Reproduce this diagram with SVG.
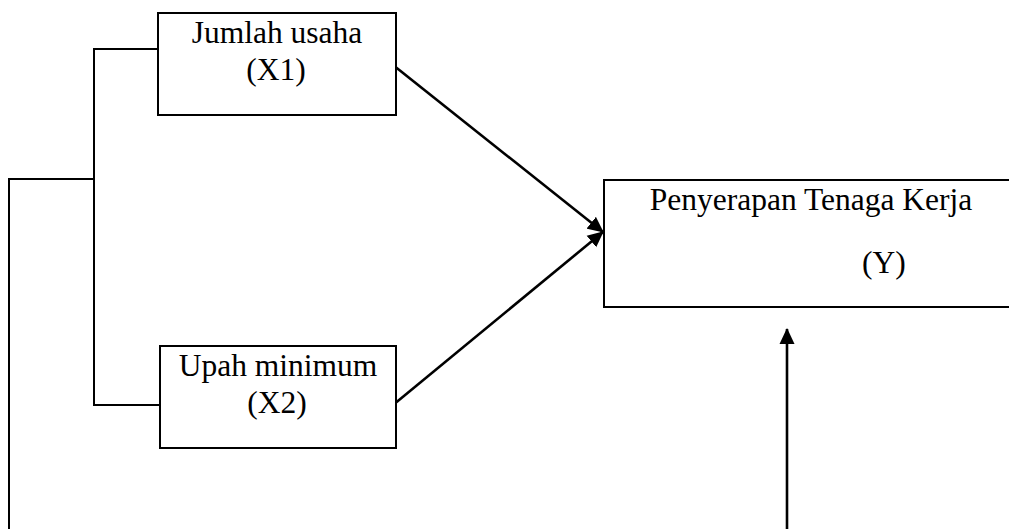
<svg xmlns="http://www.w3.org/2000/svg" width="1009" height="529" viewBox="0 0 1009 529">
  <style>
    .box { fill: #fff; stroke: #000; stroke-width: 2; }
    .lbl { font-family: "Liberation Serif", "Times New Roman", serif; font-size: 31.5px; fill: #000; }
    .link { fill: none; stroke: #000; stroke-width: 2; }
    .arrow { fill: none; stroke: #000; stroke-width: 2.6; }
  </style>
  <defs>
    <marker id="head" viewBox="0 0 16 16" refX="15" refY="8" markerWidth="16" markerHeight="16" markerUnits="userSpaceOnUse" orient="auto">
      <path d="M0,0.5 L16,8 L0,15.5 z" fill="#000"/>
    </marker>
  </defs>

  <g id="connectors">
    <!-- bracket joining the two independent variables -->
    <polyline class="link" points="159,49 94,49 94,405 160,405"/>
    <!-- long feed line from the left bracket -->
    <polyline class="link" points="94,179 9,179 9,529"/>
    <!-- causal arrows into Y -->
    <line class="arrow" x1="393" y1="65" x2="603" y2="232" marker-end="url(#head)"/>
    <line class="arrow" x1="393" y1="405" x2="603" y2="232" marker-end="url(#head)"/>
    <line class="arrow" x1="787" y1="529" x2="787" y2="329" marker-end="url(#head)"/>
  </g>

  <g id="x1">
    <rect class="box" x="158" y="13" width="238" height="102"/>
    <text class="lbl" x="277" y="43" text-anchor="middle">Jumlah usaha</text>
    <text class="lbl" x="276" y="80" text-anchor="middle">(X1)</text>
  </g>

  <g id="x2">
    <rect class="box" x="160" y="346" width="236" height="102"/>
    <text class="lbl" x="278" y="376" text-anchor="middle">Upah minimum</text>
    <text class="lbl" x="277" y="413" text-anchor="middle">(X2)</text>
  </g>

  <g id="y">
    <path class="box" d="M1012,180 L604,180 L604,307 L1012,307"/>
    <text class="lbl" x="811" y="210" text-anchor="middle">Penyerapan Tenaga Kerja</text>
    <text class="lbl" x="862" y="273">(Y)</text>
  </g>
</svg>
